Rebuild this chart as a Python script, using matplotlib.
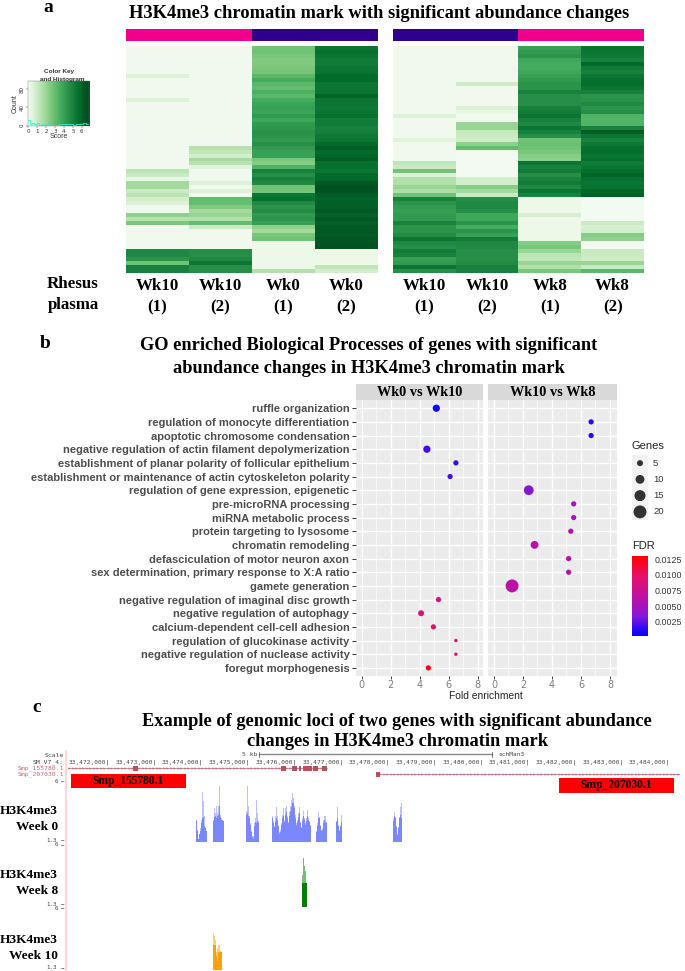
import numpy as np
import matplotlib
matplotlib.use("Agg")
import matplotlib.pyplot as plt
from matplotlib.colors import LinearSegmentedColormap, PowerNorm

W, H = 685, 971
SERIF = "Liberation Serif"
SANS = "Liberation Sans"

# ---------- panel a: heat-map scores (top row to bottom row) ----------
left_wk10_1 = [.1]*7+[.6]+[.1]*5+[.6]+[.1]*17+[1.3,1.0,.3,1.8,1.8,1.0,1.3,.8,.6,.1,.1,2.2,1.4,2.6]+[.1]*6+[4.8,4.8,4.4,2.8,5,5]
left_wk10_2 = [.1]*25+[1.4,1.2,.8,1.8,1.4,.5,.1,.1,.1,.6,.1,.6,.1,3,3,2.5,1.8,2,1.5,3,1]+[.1]*5+[4.6,4.6,4.8,5.4,4.6,4.6]
left_wk0_1 = [2.8,2.8,2.6,2.5,2.5,2.6,2.7,3.2,3.6,3.2,3.0,3.5,3.2,3.6,3.9,4.0,3.9,4.2,3.8,4.2,4.3,4.5,4.4,4.2,4.6,
              4.2,4.0,4.0,2.6,2.4,3.4,5.0,4.6,5.0,4.8,2.8,2.7,5.4,5.6,4.8,4.4,4.7,4.2,4.4,4.0,2.2,1.8,2.6,2.8,.2,.2,.2,.2,.2,.2,.2,1.5]
left_wk0_2 = [5.4,5.6,5.4,5.2,5.2,5.4,5.5,5.8,5.8,5.4,5.4,5.4,6.0,5.4,5.4,5.3,5.4,5.6,5.2,5.2,5.0,5.1,5.3,5.4,5.8,
              6.2,5.8,6.0,6.2,5.6,5.6,5.4,5.8,5.8,6.3,6.5,6.5,6.2,6.0,6.1,6.1,6.3,6.0,6.4,6.1,6.3,6.3,6.2,6.4,6.4,6.5,.2,.2,.2,.2,1.2,.8]
right_wk10_1 = [.1]*17+[.6]+[.1]*5+[.5]+[.1]*5+[1.2,1,2.8,.6,1.5,1.5,2,1.6,2.8,
               5.0,4.4,4.2,4.0,4.2,4.2,5.0,4.4,4.4,4.7,5.4,4.8,4.6,5.2,5.0,4.0,4.2,5.4,4.6]
right_wk10_2 = [.1]*9+[.9]+[.1]*5+[.6,.3]+[.1,.1]+[2,2,1.1,1.0,.9,2.2,3]+[.05]*7+[.8,.8,2.4,1.8,1,
               4.6,4.8,4.8,4.6,3.8,3.8,4.4,3.6,4.4,4.0,5.2,4.8,4.8,4.6,4.6,4.6,4.7,5.0,5.0]
right_wk8_1 = [4.0,4.2,4.4,3.8,3.6,3.6,3.8,4.0,4.2,4.4,4.4,5.0,4.6,4.6,4.6,5.0,5.2,5.4,5.0,4.8,5.4,5.0,4.6,
               2.8,2.9,2.8,2.6,2.4,2.2,5.4,5.0,5.2,4.6,5.0,5.2,4.8,5.4,5.0,.2,.2,.2,.2,.7,.2,.2,.2,.2,.2,.2,2.4,2.6,2,1.3,1.2,2,1.5,2.6]
right_wk8_2 = [5.5,5.4,5.3,5.0,5.8,5.2,5.0,5.4,5.6,5.7,5.4,5.0,4.4,4.5,4.8,4.4,4.6,3.4,3.3,3.4,5.0,6.2,5.4,
               5.0,5.3,5.6,5.7,5.4,5.6,5.2,5.4,5.7,6.0,5.6,5.4,5.5,5.9,6.1,.05,.05,.05,.05,.05,.05,1,.7,.8,2.4,2.2,.05,.05,1,1,.9,2,1,3.2]

heat_labels_left = ["Wk10\n(1)", "Wk10\n(2)", "Wk0\n(1)", "Wk0\n(2)"]
heat_labels_right = ["Wk10\n(1)", "Wk10\n(2)", "Wk8\n(1)", "Wk8\n(2)"]
key_hist_counts = [12,4,7,3,6,2,3,1,3,1,1,1,2,4,3,3,4,3,3,2,3,3,4,5,4,4]

# ---------- panel b: GO enrichment ----------
go_terms = ["ruffle organization", "regulation of monocyte differentiation", "apoptotic chromosome condensation",
            "negative regulation of actin filament depolymerization",
            "establishment of planar polarity of follicular epithelium",
            "establishment or maintenance of actin cytoskeleton polarity",
            "regulation of gene expression, epigenetic", "pre-microRNA processing", "miRNA metabolic process",
            "protein targeting to lysosome", "chromatin remodeling", "defasciculation of motor neuron axon",
            "sex determination, primary response to X:A ratio", "gamete generation",
            "negative regulation of imaginal disc growth", "negative regulation of autophagy",
            "calcium-dependent cell-cell adhesion", "regulation of glucokinase activity",
            "negative regulation of nuclease activity", "foregut morphogenesis"]
go_panel = [0,1,1,0,0,0,1,1,1,1,1,1,1,1,0,0,0,0,0,0]
go_fold = [5.15,6.7,6.7,4.5,6.5,6.1,2.4,5.5,5.5,5.3,2.8,5.15,5.15,1.25,5.3,4.1,4.95,6.5,6.5,4.6]
go_genes = [7,4,4,7,4,4,12,4,4,4,8,4,4,20,4,5,4,2,2,4]
go_fdr = [.0007,.0012,.0012,.0018,.0018,.0020,.0034,.0052,.0052,.0058,.0062,.0062,.0062,.0064,.0082,.0090,.0095,.0095,.0095,.0125]
panel_titles = ["Wk0 vs Wk10", "Wk10 vs Wk8"]
fold_ticks = [0,2,4,6,8]
size_legend = [5,10,15,20]
fdr_ticks = [.0025,.0050,.0075,.0100,.0125]

# ---------- panel c: browser tracks (kb offsets on chr coordinate 33,000 kb) ----------
ruler_kb = [472,473,474,475,476,477,478,479,480,481,482,483,484]
wk0_starts = [473.84,474.21,474.91,475.47,476.41,476.84,478.06]
wk0_mean = [
 [2.8,2.0,1.4,1.8,2.0,2.6,3.0,3.1,2.4,2.2,2.0],
 [2.8,3.1,3.2,3.0,3.2,3.3,4.0,3.1,2.9,2.9,2.8],
 [3.3,3.4,3.2,3.0,2.5,1.9,1.5,1.4,2.4,2.7,2.6,2.8,2.6],
 [3.0,2.6,2.3,2.7,3.0,2.9,2.4,1.8,1.9,2.5,3.0,3.2,2.7,3.3,3.5,3.0,2.6,3.2,3.6,3.9,4.2,4.2,3.8,3.0,2.5,2.7,3.1,3.4,2.6,2.2,2.8,3.2,2.9,2.5,2.8,3.2,2.9,2.7,2.4],
 [1.9,2.4,3.0,3.0,2.4,2.0,2.1,2.6,2.9,2.7,2.6],
 [2.7,3.0,2.4,2.0,2.3,2.7],
 [2.8,3.2,3.0,2.3,1.7,2.2,3.0,3.3,3.0]]
wk0_max = [
 [2.9,2.1,1.4,1.8,2.2,2.9,5.1,4.4,3.2,2.3,2.0],
 [2.9,3.8,3.4,4.0,3.4,4.0,5.6,3.3,3.0,2.9,2.8],
 [3.6,5.6,4.0,3.2,2.6,2.0,1.6,1.6,2.6,3.0,4.5,3.4,2.8],
 [3.2,2.8,2.4,3.2,3.9,3.2,2.5,1.9,2.1,2.6,3.3,3.8,2.9,3.8,4.0,3.2,2.7,3.5,4.0,4.5,5.0,4.6,4.0,3.3,2.6,2.9,3.4,3.9,2.7,2.3,3.0,3.6,3.0,2.6,3.0,3.7,3.1,2.8,2.5],
 [2.0,2.6,3.5,3.1,2.5,2.1,2.2,2.9,3.2,3.2,2.7],
 [2.8,3.9,2.5,2.1,2.5,3.3],
 [3.0,3.5,3.1,2.4,1.8,2.3,3.1,3.9,4.2]]
wk8_starts = [476.11]
wk8_mean = [[3.0,3.0,3.0,3.0,3.0]]
wk8_max = [[3.6,4.9,4.3,3.9,3.0]]
wk10_starts = [474.21]
wk10_mean = [[3.1,3.1,3.1,2.2,1.8,2.5,2.5,2.5,2.5]]
wk10_max = [[4.0,3.8,3.5,2.5,2.8,3.1,3.1,2.6,2.5]]
gene1_span = (471.1, 476.65)
gene1_exons = [(472.49,472.6),(475.66,475.77),(475.9,476.0),(476.05,476.1),(476.14,476.33),(476.35,476.46),(476.54,476.65)]
gene2_span = (477.69, 484.2)
gene2_exons = [(477.69,477.78)]
gene_names = ["Smp_155780.1", "Smp_207030.1"]
gene_boxes = [(471.16,473.63),(481.63,484.08)]
track_names = ["H3K4me3\nWeek 0", "H3K4me3\nWeek 8", "H3K4me3\nWeek 10"]

fig = plt.figure(figsize=(W/100, H/100), dpi=100, facecolor="white")

def ax_px(l, t, r, b, **kw):
    return fig.add_axes([l/W, 1-b/H, (r-l)/W, (b-t)/H], **kw)

def ftext(x, y, s, **kw):
    kw.setdefault("va", "center")
    kw.setdefault("ha", "center")
    return fig.text(x/W, 1-y/H, s, **kw)

def bold(x, y, s, size, **kw):
    return ftext(x, y, s, family=SERIF, fontweight="bold", fontsize=size, color="black", **kw)

# ---------- panel a ----------
bold(48, 8, "a", 14)
bold(379, 13, "H3K4me3 chromatin mark with significant abundance changes", 13.3)
MAG, NAVY = "#F0008A", "#2E008B"
heat_norm = PowerNorm(.75, vmin=0, vmax=6.9)

def heat(l, r, cols, labels, strip):
    a = ax_px(l, 29, r, 41)
    a.imshow([[0, 0, 1, 1]], aspect="auto", cmap=LinearSegmentedColormap.from_list("s", strip), interpolation="nearest")
    a.axis("off")
    a = ax_px(l, 46, r, 273)
    m = np.array([np.asarray(c, float)[:57] for c in cols]).T
    a.imshow(m, aspect="auto", cmap="Greens", norm=heat_norm, interpolation="nearest")
    a.axis("off")
    for i, lab in enumerate(labels):
        x = l + (r-l)*(i+.5)/4
        a1, a2 = lab.split("\n")
        bold(x, 286, a1, 12.2)
        bold(x, 307, a2, 12.2)

heat(126, 378, [left_wk10_1, left_wk10_2, left_wk0_1, left_wk0_2], heat_labels_left, [MAG, NAVY])
heat(393, 644, [right_wk10_1, right_wk10_2, right_wk8_1, right_wk8_2], heat_labels_right, [NAVY, MAG])
bold(73, 284, "Rhesus", 12.2)
bold(73, 305, "plasma", 12.2)

# colour key
k = ax_px(28.3, 81, 89.3, 125.7)
k.imshow(np.linspace(0, 6.85, 200)[None, :], aspect="auto", cmap="Greens", norm=PowerNorm(.75, vmin=0, vmax=6.85), extent=[0, 6.85, 0, 98])
k.step(np.linspace(0, 6.85, len(key_hist_counts)), key_hist_counts, color="#30F0D8", lw=.6, where="mid")
k.set_xlim(0, 6.85); k.set_ylim(0, 98)
k.set_xticks(range(7)); k.set_yticks([0, 40, 80])
k.tick_params(labelsize=4, length=1.5, width=.3, pad=1, colors="#333333")
for t in k.get_yticklabels():
    t.set_rotation(90); t.set_va("center")
for s in k.spines.values():
    s.set_linewidth(.3); s.set_color("#777777")
k.set_xlabel("Score", fontsize=5, labelpad=-1, family=SANS, color="#333333")
k.set_ylabel("Count", fontsize=5, labelpad=1, family=SANS, color="#333333")
ftext(59, 71, "Color Key", fontsize=4.6, fontweight="bold", family=SANS, color="#333333")
ftext(62, 79, "and Histogram", fontsize=4.6, fontweight="bold", family=SANS, color="#333333")

# ---------- panel b ----------
bold(45, 343, "b", 14)
bold(369, 346, "GO enriched Biological Processes of genes with significant", 13.2)
bold(369, 368, "abundance changes in H3K4me3 chromatin mark", 13.2)
fdr_cmap = LinearSegmentedColormap.from_list("fdr", ["#0000FF", "#8A18D8", "#C010A0", "#E8106A", "#FF0000"])
FMIN, FMAX = .00027, .01303
yy = np.arange(len(go_terms))

def diam(g):
    return 3.1*np.sqrt(np.asarray(g, float)) - .93

for p, (l, r) in enumerate([(355.7, 483), (488, 617)]):
    a = ax_px(l, 400, r, 675.7)
    x0 = -0.41
    a.set_xlim(x0, x0 + (r-l)/14.5)
    a.set_ylim(len(go_terms)-1+.57, -.6)
    a.set_facecolor("#EBEBEB")
    a.set_axisbelow(True)
    a.set_xticks(fold_ticks)
    a.set_xticks([1,3,5,7], minor=True)
    a.set_yticks(yy)
    a.grid(True, which="major", color="white", lw=1)
    a.grid(True, which="minor", axis="x", color="white", lw=.5)
    a.tick_params(axis="x", which="minor", length=0)
    a.tick_params(axis="x", which="major", length=2, width=.7, color="#444444", labelcolor="#7F7F7F", labelsize=7, pad=1)
    for s in a.spines.values():
        s.set_visible(False)
    if p == 0:
        a.set_yticklabels(go_terms, family=SANS, fontweight="bold", fontsize=8.0, color="#4D4D4D")
        a.tick_params(axis="y", length=3, width=.7, color="#333333", pad=1.5)
    else:
        a.tick_params(axis="y", length=0, labelleft=False)
    idx = [i for i, q in enumerate(go_panel) if q == p]
    a.scatter(np.array(go_fold)[idx], yy[idx], s=(diam(np.array(go_genes)[idx])*.72)**2,
              c=np.array(go_fdr)[idx], cmap=fdr_cmap, vmin=FMIN, vmax=FMAX, linewidths=0, zorder=3, clip_on=False)
    st = ax_px(l, 384, r, 400)
    st.set_facecolor("#D9D9D9"); st.set_xticks([]); st.set_yticks([])
    for s in st.spines.values():
        s.set_visible(False)
    st.text(.5, .45, panel_titles[p], transform=st.transAxes, ha="center", va="center",
            family=SERIF, fontweight="bold", fontsize=10.3, color="black")

ftext(486, 696, "Fold enrichment", fontsize=7.4, family=SANS, color="#222222")
ftext(632, 446, "Genes", fontsize=8, family=SANS, color="#222222", ha="left")
g = ax_px(632, 455, 648, 520)
g.set_facecolor("#F2F2F2"); g.set_xlim(0, 1); g.set_ylim(len(size_legend)-.5, -.5)
g.set_xticks([]); g.set_yticks([])
for s in g.spines.values():
    s.set_visible(False)
g.scatter([.5]*4, range(4), s=(diam(size_legend)*.72)**2, color="#333333", linewidths=0)
for i, v in enumerate(size_legend):
    ftext(653, 463+16.3*i, str(v), fontsize=6.8, family=SANS, color="#333333", ha="left")
ftext(632, 546, "FDR", fontsize=8, family=SANS, color="#222222", ha="left")
b = ax_px(632, 555.7, 648, 635.7)
b.imshow(np.linspace(1, 0, 200)[:, None], aspect="auto", cmap=fdr_cmap, extent=[0, 1, FMIN, FMAX])
b.set_xticks([]); b.yaxis.tick_right(); b.set_yticks(fdr_ticks)
b.set_yticklabels(["%.4f" % v for v in fdr_ticks], fontsize=6.4, family=SANS, color="#333333")
b.tick_params(axis="y", length=0, pad=4.5)
for s in b.spines.values():
    s.set_visible(False)

# ---------- panel c ----------
bold(37, 708, "c", 14)
bold(397, 721, "Example of genomic loci of two genes with significant abundance", 13.2)
bold(397, 741, "changes in H3K4me3 chromatin mark", 13.2)

PXK = 46.67
def kb2px(k):
    return 110 + PXK*(k-472)
def px2kb(x):
    return 472 + (x-110)/PXK
XL, XR = px2kb(67), px2kb(685)
BIN = 1/PXK

band = ax_px(65, 750, 67, 971); band.set_facecolor("#FFD9D6"); band.set_xticks([]); band.set_yticks([])
for s in band.spines.values():
    s.set_visible(False)

def track(t, base, starts, mean, mx, dark, light):
    a = ax_px(67, t, 685, base)
    a.set_xlim(XL, XR); a.set_ylim(1.1, 6); a.axis("off"); a.patch.set_alpha(0)
    for st, me, ma in zip(starts, mean, mx):
        x = st + BIN*np.arange(len(me))
        a.bar(x, np.array(ma)-1.1, bottom=1.1, width=BIN*1.05, align="edge", color=light, lw=0)
        a.bar(x, np.array(me)-1.1, bottom=1.1, width=BIN*1.05, align="edge", color=dark, lw=0)
    return a

track(780.7, 842.3, wk0_starts, wk0_mean, wk0_max, "#7B87FF", "#BCC2FF")
track(844.3, 906.7, wk8_starts, wk8_mean, wk8_max, "#0A7A0A", "#7ABB7A")
track(908, 970, wk10_starts, wk10_mean, wk10_max, "#FF9F10", "#FFCC88")

MONO = "DejaVu Sans Mono"
for (t6, t13) in [(781, 840), (844.5, 904), (908, 967.7)]:
    ftext(56, t6, "6", fontsize=4.2, family=MONO, color="#444444")
    ftext(63, t6, "\u2212", fontsize=4.2, family=MONO, color="#444444")
    ftext(52, t13, "1.3", fontsize=4.2, family=MONO, color="#444444")
    ftext(63, t13, "\u2212", fontsize=4.2, family=MONO, color="#444444")

for i, (name, y1) in enumerate(zip(track_names, [811, 875, 940])):
    l1, l2 = name.split("\n")
    bold(58, y1, l1, 9.6, ha="right")
    bold(58, y1+16, l2, 9.6, ha="right")

t = ax_px(67, 746, 685, 800)
t.set_xlim(XL, XR); t.set_ylim(800, 746); t.axis("off"); t.patch.set_alpha(0)
GENE = "#B9505F"
for span, exons, y in [(gene1_span, gene1_exons, 768), (gene2_span, gene2_exons, 774.3)]:
    t.plot(span, [y, y], color=GENE, lw=.6, alpha=.7)
    xs = np.arange(span[0]+.03, span[1], .075)
    t.plot(xs, [y]*len(xs), ls="", marker=">", ms=1.2, mfc="none", mec=GENE, mew=.3)
    for e0, e1 in exons:
        t.fill_between([e0, e1], y-2.5, y+2.5, color=GENE, lw=0)
for (b0, b1), nm, (y0, y1) in zip(gene_boxes, gene_names, [(774.3, 788), (777.7, 792.7)]):
    t.fill_between([b0, b1], y0, y1, color="#FF0000", lw=0, zorder=4)
    t.text((b0+b1)/2, (y0+y1)/2, nm, ha="center", va="center", family=SERIF, fontweight="bold",
           fontsize=8.3, color="black", zorder=5)

for k_ in ruler_kb:
    ftext(kb2px(k_), 762, "33,%d,000|" % k_, fontsize=4.4, family=MONO, color="#444444", ha="right")
t.plot([px2kb(259), px2kb(492)], [754, 754], color="#888888", lw=1)
t.plot([px2kb(259)]*2, [751.5, 756.5], color="#444444", lw=.5)
t.plot([px2kb(492)]*2, [751.5, 756.5], color="#444444", lw=.5)
ftext(250, 754, "5 kb", fontsize=4.6, family=MONO, color="#444444")
ftext(498, 754, "schMan3", fontsize=4.4, family=MONO, color="#444444", ha="left")
ftext(64, 755, "Scale", fontsize=4.6, family=MONO, color="#444444", ha="right")
ftext(64, 762, "SM_V7_4:", fontsize=4.6, family=MONO, color="#444444", ha="right")
ftext(64, 768, "Smp_155780.1", fontsize=4.6, family=MONO, color="#D06070", ha="right")
ftext(64, 774.5, "Smp_207030.1", fontsize=4.6, family=MONO, color="#D06070", ha="right")

fig.savefig("out.png", dpi=100)
